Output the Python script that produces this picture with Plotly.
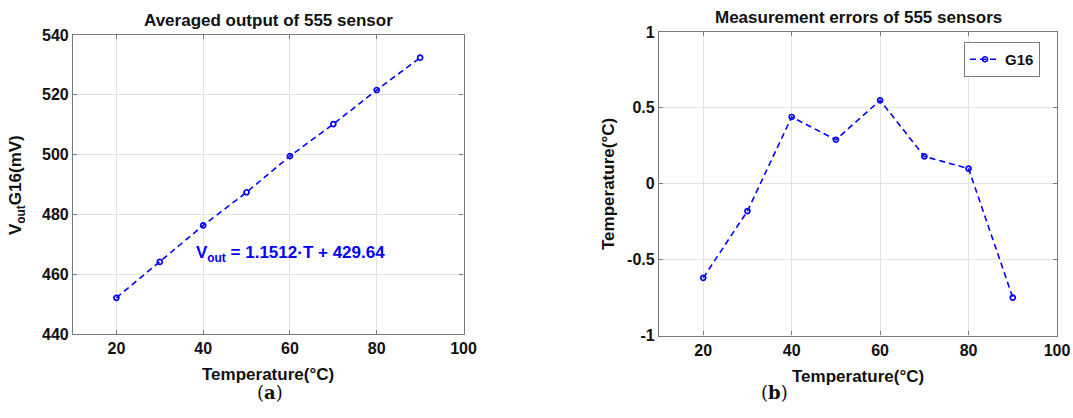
import plotly.graph_objects as go

temps = [20, 30, 40, 50, 60, 70, 80, 90]
vout_mv = [452.1, 464.1, 476.3, 487.4, 499.5, 510.2, 521.6, 532.4]
errors_c = [-0.62, -0.18, 0.44, 0.29, 0.55, 0.18, 0.10, -0.75]
x_ticks = [20, 40, 60, 80, 100]
y1_ticks = [440, 460, 480, 500, 520, 540]
y2_ticks = [-1, -0.5, 0, 0.5, 1]
y2_ticktext = ["-1", "-0.5", "0", "0.5", "1"]
series_name = "G16"

BLUE = "#0000FF"
FONT = "Liberation Sans"
W, H = 1073, 418

fig = go.Figure()

line_style = dict(color=BLUE, width=1.6, dash="6px,4px")
marker_style = dict(symbol="circle-open", size=5, color=BLUE, line=dict(width=1.7, color=BLUE))

fig.add_trace(go.Scatter(x=temps, y=vout_mv, mode="lines+markers", line=line_style,
                         marker=marker_style, xaxis="x", yaxis="y", showlegend=False))
fig.add_trace(go.Scatter(x=temps, y=errors_c, mode="lines+markers", line=line_style,
                         marker=marker_style, xaxis="x2", yaxis="y2", name=series_name,
                         showlegend=True))

def px_x(p):
    return p / W

def px_y(p):
    return 1 - p / H

axis_common = dict(
    showline=True, linecolor="#7a7a7a", linewidth=1.2, mirror="allticks",
    ticks="inside", ticklen=4, tickcolor="#7a7a7a",
    showgrid=True, gridcolor="#e3e3e3", gridwidth=1, zeroline=False,
    tickfont=dict(family=FONT, size=16, color="#111111", weight="bold"),
    automargin=False,
)

fig.update_layout(
    width=W, height=H,
    margin=dict(l=0, r=0, t=0, b=0),
    paper_bgcolor="white", plot_bgcolor="white",
    font=dict(family=FONT, color="#111111"),
    xaxis=dict(domain=[px_x(73), px_x(463.5)], range=[10, 100], tickvals=x_ticks,
               anchor="y", **axis_common),
    yaxis=dict(domain=[px_y(334), px_y(35)], range=[440, 540], tickvals=y1_ticks,
               anchor="x", **axis_common),
    xaxis2=dict(domain=[px_x(659), px_x(1057)], range=[10, 100], tickvals=x_ticks,
                anchor="y2", **axis_common),
    yaxis2=dict(domain=[px_y(335.5), px_y(32)], range=[-1, 1], tickvals=y2_ticks,
                ticktext=y2_ticktext, anchor="x2", **axis_common),
    legend=dict(x=px_x(964), y=px_y(42), xanchor="left", yanchor="top",
                bordercolor="#7a7a7a", borderwidth=1, bgcolor="white",
                font=dict(family=FONT, size=15, color="#111111", weight="bold"),
                itemwidth=30, tracegroupgap=0),
)

def ann(text, x, y, size, angle=0, color="#111111", weight="bold", family=FONT):
    fig.add_annotation(text=text, x=px_x(x), y=px_y(y), xref="paper", yref="paper",
                       showarrow=False, textangle=angle, xanchor="center", yanchor="middle",
                       font=dict(family=family, size=size, color=color, weight=weight))

# titles
ann("Averaged output of 555 sensor", 268, 20, 17)
ann("Measurement errors of 555 sensors", 858, 17, 17)
# axis titles
ann("Temperature(°C)", 268, 374, 17)
ann("Temperature(°C)", 858, 376, 17)
ann("V<sub>out</sub>G16(mV)", 17, 185, 17, angle=-90)
ann("Temperature(°C)", 608, 184, 17, angle=-90)
# fit equation
ann("V<sub>out</sub> = 1.1512·T + 429.64", 290, 254, 17, color=BLUE)
# captions
fig.add_annotation(text="(<b>a</b>)", x=px_x(255), y=px_y(405), xref="paper", yref="paper",
                   showarrow=False, font=dict(family="DejaVu Serif", size=18, color="#111111"))
fig.add_annotation(text="(<b>b</b>)", x=px_x(790), y=px_y(405), xref="paper", yref="paper",
                   showarrow=False, font=dict(family="DejaVu Serif", size=18, color="#111111"))

fig.write_html("out.html", config={"displayModeBar": False},
               post_script="document.body.style.margin='0';document.body.style.overflow='hidden';")
